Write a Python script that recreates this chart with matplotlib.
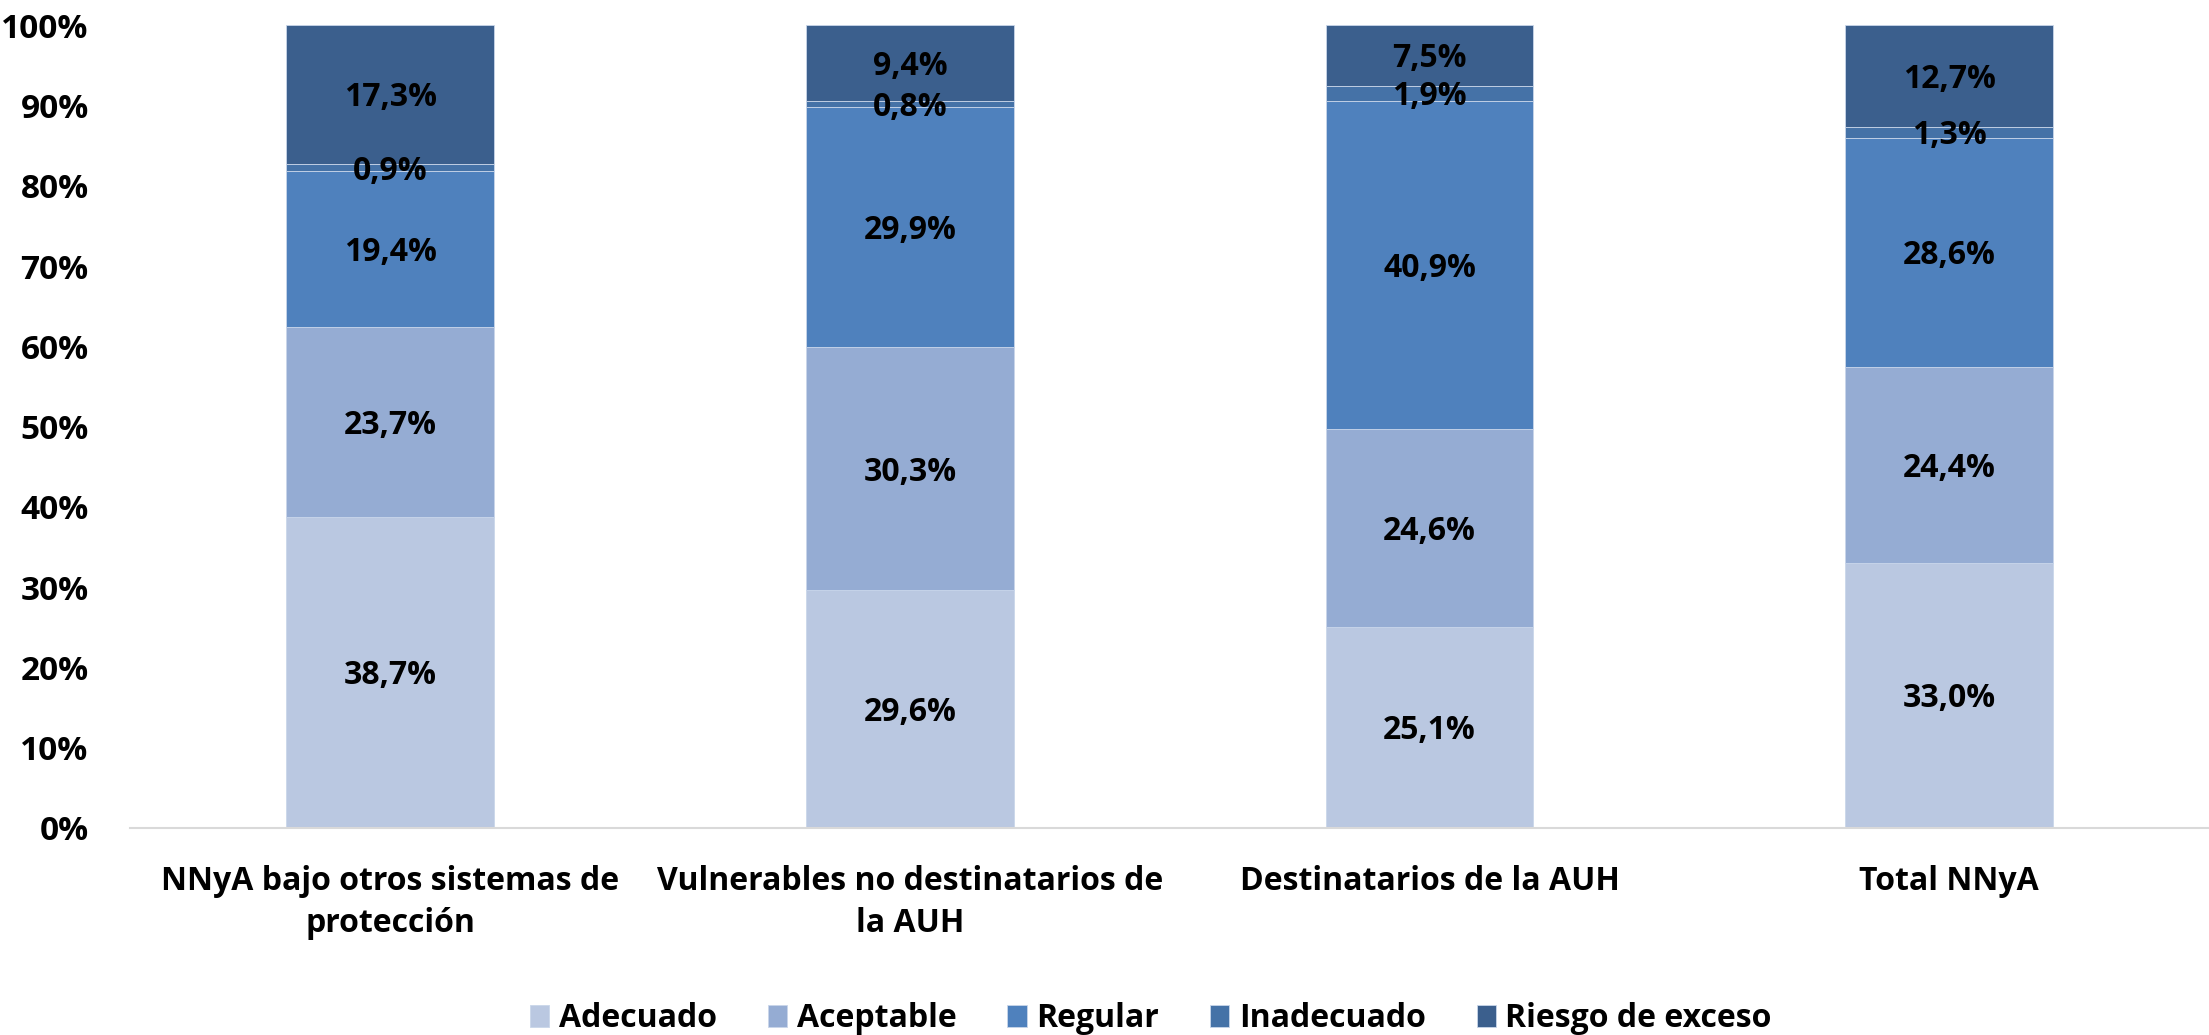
import matplotlib.pyplot as plt
import numpy as np

plt.rcParams["font.family"] = ["Open Sans", "DejaVu Sans"]
plt.rcParams["font.weight"] = "bold"

# ================================
# DATA (% of children per group)
# ================================
grupos = [
    "NNyA bajo otros sistemas de\nprotección",
    "Vulnerables no destinatarios de\nla AUH",
    "Destinatarios de la AUH",
    "Total NNyA",
]
categorias = ["Adecuado", "Aceptable", "Regular", "Inadecuado", "Riesgo de exceso"]

adecuado = [38.7, 29.6, 25.1, 33.0]
aceptable = [23.7, 30.3, 24.6, 24.4]
regular = [19.4, 29.9, 40.9, 28.6]
inadecuado = [0.9, 0.8, 1.9, 1.3]
riesgo = [17.3, 9.4, 7.5, 12.7]

colores = ["#BAC8E1", "#95ACD3", "#4F81BD", "#4572A7", "#3B5F8D"]

series = [adecuado, aceptable, regular, inadecuado, riesgo]

# ================================
# PLOT
# ================================
fig = plt.figure(figsize=(22.09, 10.35), dpi=100)
ax = fig.add_axes([0.059, 0.2, 0.941, 0.7755])

x = np.arange(len(grupos))
base = np.zeros(len(grupos))
for nombre, vals, col in zip(categorias, series, colores):
    vals = np.array(vals)
    ax.bar(x, vals, bottom=base, width=0.4, color=col, label=nombre,
           edgecolor="#C9D6EA", linewidth=0.6)
    for xi, b, v in zip(x, base, vals):
        ax.text(xi, b + v / 2 - 0.4, f"{v:.1f}%".replace(".", ","), ha="center",
                va="center", fontsize=23, fontweight="bold", color="black")
    base += vals

ax.set_xlim(-0.5, 3.5)
ax.set_ylim(0, 100)
ax.set_yticks(range(0, 101, 10))
ax.set_yticklabels([f"{t}%" for t in range(0, 101, 10)])
ax.set_xticks(x)
ax.set_xticklabels(grupos, linespacing=1.35, fontweight="bold")
ax.tick_params(axis="x", length=0, labelsize=23, pad=27)
ax.tick_params(axis="y", length=0, labelsize=24, pad=30)

for s in ["top", "right", "left"]:
    ax.spines[s].set_visible(False)
ax.spines["bottom"].set_color("#D9D9D9")
ax.spines["bottom"].set_linewidth(1.5)

fig.legend(loc="lower center", ncol=5, frameon=False,
           prop={"size": 23, "weight": "bold"},
           bbox_to_anchor=(0.521, -0.028), handlelength=0.6, handleheight=0.7,
           handletextpad=0.3, columnspacing=1.6)

plt.savefig("out.png", dpi=100)
